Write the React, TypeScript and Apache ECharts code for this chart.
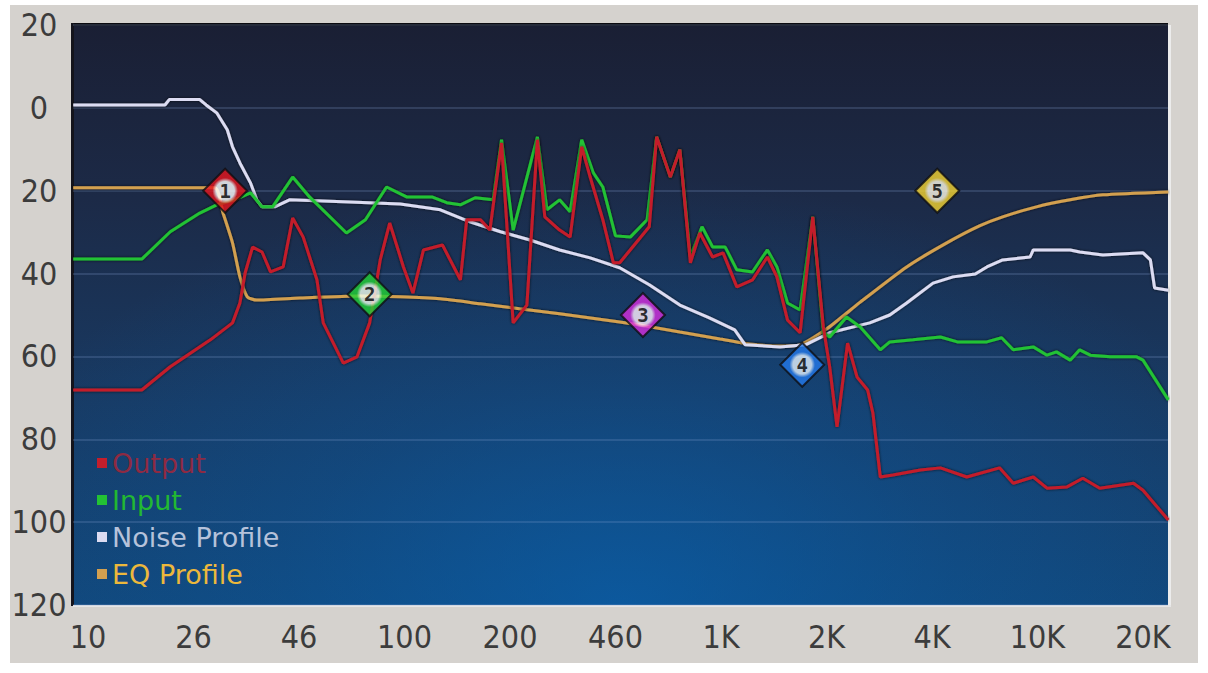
import React, { useEffect, useRef } from "react";
import * as echarts from "echarts";

// x positions are band positions on the evenly spaced frequency scale (0 = "10", 10 = "20K")
const freqLabels = ["10", "26", "46", "100", "200", "460", "1K", "2K", "4K", "10K", "20K"];

const outputCurve: [number, number][] = [
  [-0.14, -68.1], [0.51, -68.1], [0.78, -62.5], [1.16, -56.0], [1.37, -51.9], [1.44, -47.1], [1.49, -39.8],
  [1.56, -33.6], [1.65, -34.8], [1.73, -39.6], [1.85, -38.4], [1.94, -26.6], [2.04, -31.2], [2.17, -41.5],
  [2.23, -51.9], [2.42, -61.6], [2.55, -60.1], [2.67, -51.9], [2.77, -36.7], [2.86, -27.8], [2.99, -38.4],
  [3.08, -44.7], [3.18, -34.3], [3.36, -33.1], [3.53, -41.5], [3.59, -27.0], [3.72, -27.0], [3.81, -29.5],
  [3.92, -8.5], [4.03, -51.9], [4.16, -47.6], [4.26, -7.7], [4.33, -26.3], [4.47, -29.5], [4.57, -31.2],
  [4.68, -9.4], [4.76, -16.7], [4.88, -27.0], [4.98, -37.4], [5.04, -37.4], [5.32, -28.7], [5.39, -7.0],
  [5.52, -16.7], [5.61, -10.1], [5.71, -37.4], [5.80, -30.2], [5.92, -36.0], [6.02, -35.0], [6.15, -43.2],
  [6.30, -41.5], [6.44, -36.0], [6.53, -40.8], [6.63, -51.2], [6.75, -54.3], [6.87, -26.3], [6.97, -52.9],
  [7.03, -62.5], [7.10, -77.0], [7.20, -56.8], [7.29, -65.0], [7.39, -68.1], [7.44, -73.7], [7.51, -89.1],
  [7.63, -88.6], [7.89, -87.4], [8.08, -86.9], [8.33, -89.1], [8.64, -86.9], [8.77, -90.6], [8.96, -89.1],
  [9.09, -91.8], [9.28, -91.5], [9.43, -89.4], [9.59, -91.8], [9.91, -90.6], [10.0, -92.3], [10.24, -99.5],
];

const inputCurve: [number, number][] = [
  [-0.14, -36.5], [0.51, -36.5], [0.78, -29.9], [1.06, -25.4], [1.22, -23.4], [1.39, -22.2], [1.54, -20.5],
  [1.65, -23.9], [1.75, -23.9], [1.94, -16.7], [2.10, -21.5], [2.45, -30.2], [2.63, -27.0], [2.83, -19.1],
  [3.02, -21.5], [3.26, -21.5], [3.40, -22.9], [3.53, -23.4], [3.67, -21.7], [3.84, -22.2], [3.92, -7.7],
  [4.03, -29.5], [4.26, -7.0], [4.35, -24.6], [4.47, -22.2], [4.57, -25.1], [4.68, -7.7], [4.79, -15.7],
  [4.88, -19.1], [5.0, -30.9], [5.14, -31.2], [5.30, -27.0], [5.39, -7.0], [5.52, -16.7], [5.61, -10.1],
  [5.71, -36.0], [5.82, -28.7], [5.92, -33.6], [6.04, -33.6], [6.15, -39.1], [6.30, -39.6], [6.44, -34.3],
  [6.53, -38.4], [6.63, -47.1], [6.75, -48.8], [6.87, -26.3], [6.97, -54.3], [7.03, -55.3], [7.19, -50.5],
  [7.32, -52.9], [7.51, -58.4], [7.60, -56.5], [7.82, -56.0], [8.08, -55.3], [8.24, -56.5], [8.52, -56.5],
  [8.66, -55.5], [8.77, -58.4], [8.96, -57.7], [9.09, -59.7], [9.18, -58.9], [9.31, -60.9], [9.40, -58.4],
  [9.50, -59.7], [9.69, -60.1], [9.94, -60.1], [10.0, -60.9], [10.24, -70.5],
];

const noiseCurve: [number, number][] = [
  [-0.14, 0.7], [0.73, 0.7], [0.77, 2.0], [1.06, 2.0], [1.12, 0.7], [1.22, -1.2], [1.32, -5.3], [1.37, -9.4],
  [1.44, -13.3], [1.54, -18.1], [1.60, -22.2], [1.65, -23.9], [1.77, -23.9], [1.91, -22.2], [2.48, -22.7],
  [2.96, -23.2], [3.34, -24.6], [3.62, -27.5], [3.91, -29.9], [4.19, -31.9], [4.47, -34.3], [4.76, -36.2],
  [5.04, -38.6], [5.32, -42.7], [5.61, -47.6], [5.89, -50.7], [6.13, -53.6], [6.23, -57.2], [6.56, -57.7],
  [6.80, -57.2], [7.03, -54.3], [7.41, -51.9], [7.60, -50.0], [7.76, -47.1], [8.01, -42.3], [8.20, -40.8],
  [8.41, -40.1], [8.52, -38.4], [8.67, -36.7], [8.93, -36.0], [8.96, -34.3], [9.31, -34.3], [9.40, -34.8],
  [9.62, -35.5], [10.0, -35.0], [10.07, -36.7], [10.11, -43.5], [10.24, -44.0],
];

const eqCurve: [number, number][] = [
  [-0.14, -19.3], [1.20, -19.3], [1.28, -25.4], [1.37, -32.6], [1.44, -40.8], [1.51, -45.6], [1.60, -46.4],
  [2.01, -45.9], [2.58, -45.4], [2.96, -45.6], [3.34, -46.1], [3.72, -47.3], [4.09, -48.5], [4.47, -49.7],
  [4.85, -51.0], [5.23, -52.4], [5.61, -54.1], [5.99, -55.8], [6.27, -57.0], [6.56, -57.5], [6.75, -57.2],
  [7.00, -53.4], [7.32, -46.9], [7.76, -38.4], [8.14, -32.6], [8.45, -28.5], [8.67, -26.3], [8.99, -23.9],
  [9.31, -22.2], [9.62, -21.0], [10.24, -20.3],
];

const bandNumbers = ["1", "2", "3", "4", "5"];
const bandPos = [1.3, 2.67, 5.26, 6.77, 8.05];
const bandLevel = [-20, -45, -50, -62, -20];

const bandColors = ["#e6141c", "#22d236", "#d62ede", "#2479ea", "#f4d432"];
const bandCores = ["#ffffff", "#f0fff0", "#fff0ff", "#e4f2ff", "#fffbe8"];

const axisFont = "'Liberation Sans Narrow', 'Arial Narrow', 'DejaVu Sans Condensed', sans-serif";
const legendFont = "'DejaVu Sans', Verdana, sans-serif";

export default function App() {
  const ref = useRef<HTMLDivElement>(null);

  useEffect(() => {
    const chart = echarts.init(ref.current!, null, { renderer: "svg" });

    const lineBase = (name: string, data: [number, number][], color: string, z: number) => ({
      name,
      type: "line",
      data,
      showSymbol: false,
      symbol: "none",
      silent: true,
      z,
      lineStyle: {
        color,
        width: 3,
        shadowColor: "rgba(0,0,0,0.75)",
        shadowBlur: 3,
      },
      itemStyle: { color },
    });

    const glowScale = 1.6;

    const option: any = {
      animation: false,
      backgroundColor: "#ffffff",
      grid: {
        left: 73,
        top: 25,
        right: 40,
        bottom: 68,
        containLabel: false,
        outerBoundsMode: "none",
      },
      xAxis: {
        type: "value",
        min: -0.142,
        max: 10.237,
        axisLine: { show: false },
        axisTick: { show: false },
        splitLine: { show: false },
        axisLabel: {
          customValues: freqLabels.map((_, i) => i),
          formatter: (v: number) => freqLabels[Math.round(v)] ?? "",
          color: "#3c3c3c",
          fontFamily: axisFont,
          fontSize: 32,
          margin: 16,
        },
      },
      yAxis: {
        type: "value",
        min: -120,
        max: 20,
        interval: 20,
        axisLine: { show: false },
        axisTick: { show: false },
        axisLabel: {
          formatter: (v: number) => String(Math.abs(v)),
          align: "center",
          margin: 34,
          color: "#3c3c3c",
          fontFamily: axisFont,
          fontSize: 32,
        },
        splitLine: {
          show: true,
          lineStyle: { color: "rgba(130,160,210,0.22)", width: 2 },
        },
      },
      legend: {
        data: [
          { name: "Output", textStyle: { color: "#8e2a42" } },
          { name: "Input", textStyle: { color: "#22b832" } },
          { name: "Noise Profile", textStyle: { color: "#b6c2da" } },
          { name: "EQ Profile", textStyle: { color: "#ecb83c" } },
        ],
        orient: "vertical",
        left: 92,
        top: 444,
        icon: "rect",
        itemWidth: 10,
        itemHeight: 10,
        itemGap: 9,
        selectedMode: false,
        textStyle: {
          fontFamily: legendFont,
          fontSize: 27,
          lineHeight: 28,
        },
      },
      graphic: [
        {
          type: "rect",
          z: -20,
          silent: true,
          shape: { x: 10, y: 5, width: 1188, height: 658 },
          style: { fill: "#d5d2ce" },
        },
        {
          type: "rect",
          z: -19,
          silent: true,
          shape: { x: 73, y: 25, width: 1095, height: 580 },
          style: {
            fill: new echarts.graphic.LinearGradient(0, 0, 0, 1, [
              { offset: 0, color: "#1a1f34" },
              { offset: 0.3, color: "#1c2a47" },
              { offset: 0.65, color: "#183a63" },
              { offset: 1, color: "#124678" },
            ]),
          },
        },
        {
          type: "rect",
          z: -18,
          silent: true,
          x: 620,
          y: 605,
          scaleX: glowScale,
          shape: { x: -547 / glowScale, y: -580, width: 1095 / glowScale, height: 580 },
          style: {
            fill: new echarts.graphic.RadialGradient(
              0,
              0,
              430,
              [
                { offset: 0, color: "rgba(8,100,180,0.62)" },
                { offset: 0.5, color: "rgba(8,100,180,0.25)" },
                { offset: 1, color: "rgba(8,100,180,0)" },
              ],
              true
            ),
          },
        },
        {
          type: "rect",
          z: -17,
          silent: true,
          shape: { x: 71, y: 23, width: 1097, height: 3 },
          style: { fill: "#0b0b10" },
        },
        {
          type: "rect",
          z: -17,
          silent: true,
          shape: { x: 71, y: 23, width: 3, height: 583 },
          style: { fill: "#14141c" },
        },
        {
          type: "rect",
          z: -17,
          silent: true,
          shape: { x: 1168, y: 25, width: 3, height: 582 },
          style: { fill: "#ececec" },
        },
        {
          type: "rect",
          z: -17,
          silent: true,
          shape: { x: 73, y: 605, width: 1098, height: 2 },
          style: { fill: "#e6e6e6" },
        },
      ],
      series: [
        { ...lineBase("EQ Profile", eqCurve, "#d3a050", 2), smooth: 0.2 },
        lineBase("Noise Profile", noiseCurve, "#dcdcf2", 3),
        lineBase("Input", inputCurve, "#23c234", 4),
        lineBase("Output", outputCurve, "#c41e2c", 5),
        {
          name: "Bands",
          type: "scatter",
          z: 10,
          silent: true,
          symbol: "diamond",
          symbolSize: [44, 44],
          data: bandPos.map((x, i) => ({
            value: [x, bandLevel[i]],
            itemStyle: {
              color: new echarts.graphic.RadialGradient(0.5, 0.5, 0.5, [
                { offset: 0, color: bandCores[i] },
                { offset: 0.42, color: bandCores[i] },
                { offset: 0.58, color: bandColors[i] },
                { offset: 1, color: bandColors[i] },
              ]),
              borderColor: "#0e0e12",
              borderWidth: 2,
            },
          })),
          label: {
            show: true,
            position: "inside",
            formatter: (p: any) => bandNumbers[p.dataIndex],
            color: "#000000",
            fontWeight: "bold",
            fontSize: 19,
            fontFamily: "'DejaVu Sans Mono', monospace",
          },
        },
      ],
    };

    chart.setOption(option);
    return () => chart.dispose();
  }, []);

  return (
    <div
      ref={ref}
      style={{ position: "fixed", left: 0, top: 0, width: 1208, height: 673 }}
    />
  );
}
